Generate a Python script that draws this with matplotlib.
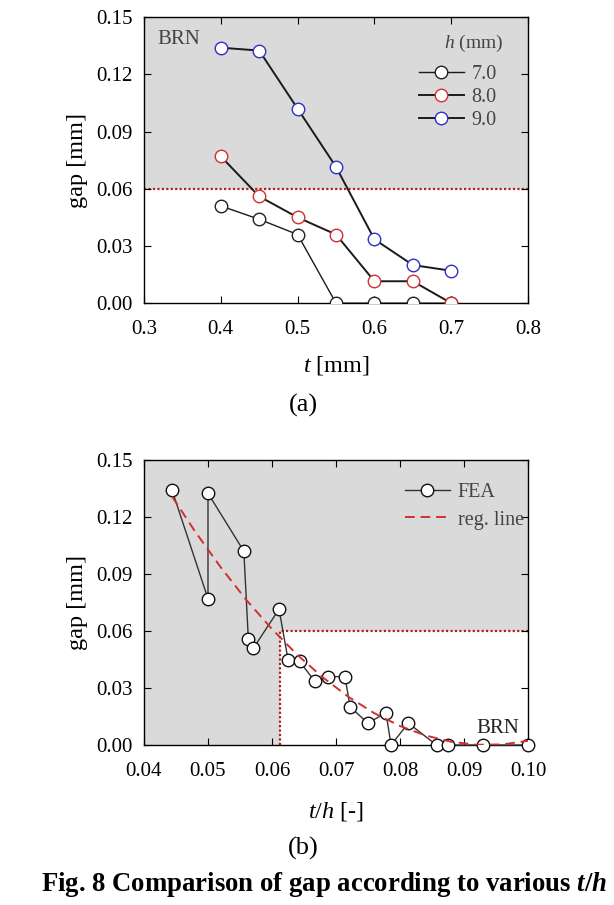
import matplotlib
matplotlib.use('Agg')
import matplotlib.pyplot as plt

plt.rcParams['font.family'] = ['Liberation Serif', 'DejaVu Serif']
plt.rcParams['mathtext.fontset'] = 'custom'
plt.rcParams['mathtext.rm'] = 'Liberation Serif'
plt.rcParams['mathtext.it'] = 'Liberation Serif:italic'
plt.rcParams['mathtext.bf'] = 'Liberation Serif:bold'
plt.rcParams['mathtext.bfit'] = 'Liberation Serif:bold:italic'

# --- data (a): gap vs t for each h ---
t_vals = [0.40, 0.45, 0.50, 0.55, 0.60, 0.65, 0.70]
gap_h7 = [0.051, 0.044, 0.036, 0.0, 0.0, 0.0, 0.0]
gap_h8 = [0.077, 0.056, 0.045, 0.036, 0.0115, 0.0115, 0.0]
gap_h9 = [0.134, 0.1325, 0.102, 0.0715, 0.0335, 0.020, 0.017]
h_labels = ['7.0', '8.0', '9.0']
h_colors = ['#222222', '#d03030', '#3030c8']

# --- data (b): gap vs t/h (all FEA points, sorted by t/h) ---
th_vals = [0.0444, 0.0500, 0.0500, 0.0556, 0.0563, 0.0571, 0.0611, 0.0625,
           0.0643, 0.0667, 0.0688, 0.0714, 0.0722, 0.0750, 0.0778, 0.0786,
           0.0813, 0.0857, 0.0875, 0.0929, 0.1000]
gap_fea = [0.134, 0.077, 0.1325, 0.102, 0.056, 0.051, 0.0715, 0.045,
           0.044, 0.0335, 0.036, 0.036, 0.020, 0.0115, 0.017, 0.0,
           0.0115, 0.0, 0.0, 0.0, 0.0]

# regression line
reg_x = [0.0444, 0.048, 0.052, 0.056, 0.060, 0.064, 0.068, 0.072,
         0.076, 0.080, 0.084, 0.088, 0.092, 0.096, 0.100]
reg_y = [0.1307, 0.1123, 0.0935, 0.0763, 0.0610, 0.0473, 0.0354, 0.0252,
         0.0167, 0.0100, 0.0050, 0.0017, 0.0001, 0.0003, 0.0022]

gap_limit = 0.06
th_limit = 0.0613

gray = '#dadada'
red_dot = '#b02020'

fig = plt.figure(figsize=(6.14, 9.05), dpi=100)

def style_axes(ax):
    ax.tick_params(direction='in', top=True, right=True, length=5, width=0.8,
                   labelsize=15)
    ax.tick_params(axis='x', pad=12)
    ax.tick_params(axis='y', pad=8)
    for s in ax.spines.values():
        s.set_linewidth(1.0)
    ax.set_yticks([0.0, 0.03, 0.06, 0.09, 0.12, 0.15])
    ax.set_yticklabels(['0.00', '0.03', '0.06', '0.09', '0.12', '0.15'])
    ax.set_ylim(0, 0.15)
    ax.set_ylabel('gap [mm]', fontsize=17.5, labelpad=6)

# ---------- (a) ----------
ax1 = fig.add_axes([0.2345, 0.665, 0.6255, 0.316])
ax1.axhspan(gap_limit, 0.15, color=gray, zorder=0, lw=0)
ax1.axhline(gap_limit, color=red_dot, ls=(0, (1, 1)), lw=1.6, zorder=1)
for gaps, lab, col in zip([gap_h7, gap_h8, gap_h9], h_labels, h_colors):
    ax1.plot(t_vals, gaps, '-o', color='#1a1a1a', lw=1.0 if lab == '7.0' else 1.4,
             mfc='white', mec=col, mew=1.0, ms=9, label=lab, zorder=3)
ax1.set_xlim(0.3, 0.8)
ax1.set_xticks([0.3, 0.4, 0.5, 0.6, 0.7, 0.8])
style_axes(ax1)
ax1.set_xlabel('$t$ [mm]', fontsize=17.5, labelpad=11)
ax1.text(0.318, 0.1385, 'BRN', fontsize=15, color='#444444', va='center')
ax1.text(0.935, 0.1364, '$h$ (mm)', fontsize=14, color='#444444', va='center',
         ha='right', transform=ax1.get_yaxis_transform())
leg1 = ax1.legend(loc='upper right', frameon=False, fontsize=14.5,
                  handlelength=2.2, handletextpad=0.4, labelspacing=0.2,
                  borderaxespad=0.0, bbox_to_anchor=(0.94, 0.862))
for txt in leg1.get_texts():
    txt.set_color('#444444')
fig.text(0.4935, 0.552, '(a)', ha='center', va='center', fontsize=19)

# ---------- (b) ----------
ax2 = fig.add_axes([0.2345, 0.1768, 0.6255, 0.3149])
ax2.axhspan(gap_limit, 0.15, color=gray, zorder=0, lw=0)
ax2.axvspan(0.04, th_limit, ymax=gap_limit / 0.15, color=gray, zorder=0, lw=0)
ax2.plot([th_limit, th_limit, 0.10], [0.0, gap_limit, gap_limit],
         color=red_dot, ls=(0, (1, 1)), lw=1.6, zorder=1)
ax2.plot(th_vals, gap_fea, '-o', color='#333333', lw=1.0, mfc='white',
         mec='#111111', mew=1.0, ms=9, label='FEA', zorder=3, clip_on=False)
ax2.plot(reg_x, reg_y, '--', color='#d03030', lw=1.4, dashes=(5, 3),
         label='reg. line', zorder=4)
ax2.set_xlim(0.04, 0.10)
ax2.set_xticks([0.04, 0.05, 0.06, 0.07, 0.08, 0.09, 0.10])
ax2.set_xticklabels(['0.04', '0.05', '0.06', '0.07', '0.08', '0.09', '0.10'])
style_axes(ax2)
ax2.set_xlabel('$t/h$ [-]', fontsize=17.5, labelpad=14)
ax2.text(0.0952, 0.0085, 'BRN', fontsize=15, color='#222222', va='center', ha='center')
leg2 = ax2.legend(loc='upper right', frameon=False, fontsize=14.5, handlelength=2.2,
                  handletextpad=0.4, labelspacing=0.42, borderaxespad=0.0,
                  bbox_to_anchor=(1.01, 0.948))
for txt in leg2.get_texts():
    txt.set_color('#444444')
fig.text(0.4935, 0.063, '(b)', ha='center', va='center', fontsize=19)

fig.text(0.528, 0.023, r'Fig. 8 Comparison of gap according to various $\boldsymbol{t/h}$',
         ha='center', va='center', fontsize=19.3, fontweight='bold')

fig.savefig('out.png', dpi=100)
